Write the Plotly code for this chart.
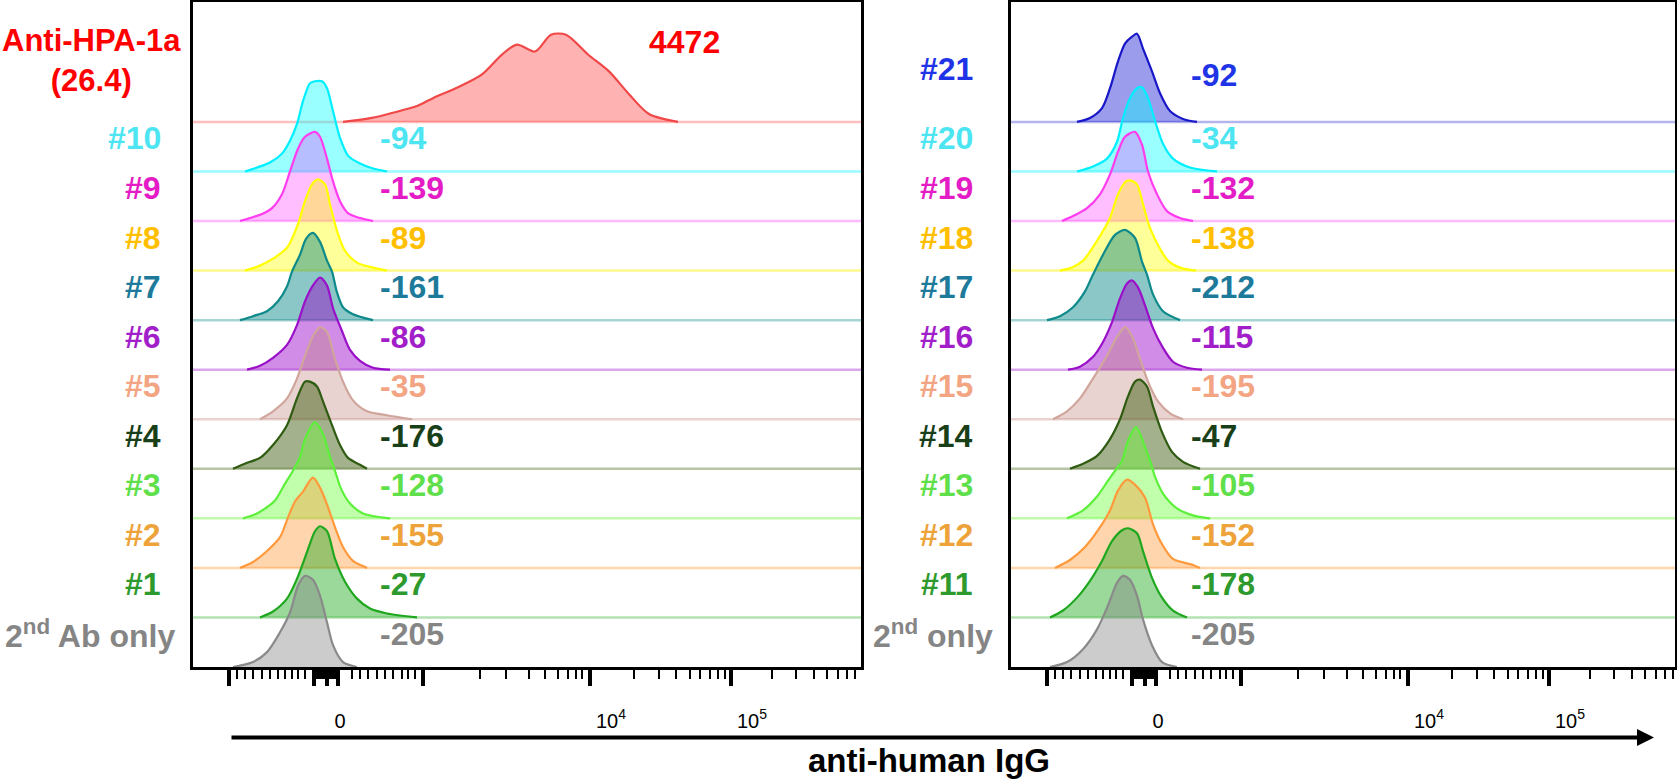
import plotly.graph_objects as go

W, H = 1677, 779

# ---------------- data (x in display channels of the biexponential axis, h = histogram height, % of mode scale) -------------
# left panel (top -> bottom)
hpa1a_x = [150, 179, 199, 224, 240, 265, 289, 309, 324, 342, 358, 373, 395, 416, 436, 456, 485]
hpa1a_h = [0, 4, 9, 16, 24, 35, 48, 68, 78, 71, 88, 88, 68, 51, 28, 8, 0]
s10_x = [52, 64, 77, 89, 97, 104, 110, 117, 122, 129, 134, 140, 147, 155, 167, 180, 194]
s10_h = [0, 4, 9, 18, 31, 48, 71, 89, 91, 91, 84, 61, 34, 16, 8, 3, 0]
s9_x = [47, 57, 69, 79, 89, 97, 105, 112, 122, 127, 134, 140, 147, 155, 167, 180]
s9_h = [0, 3, 7, 13, 27, 50, 73, 85, 90, 85, 63, 40, 20, 8, 3, 0]
s8_x = [52, 67, 80, 94, 105, 112, 119, 125, 132, 137, 144, 152, 164, 180, 194]
s8_h = [0, 5, 12, 23, 47, 70, 87, 92, 87, 67, 40, 20, 8, 3, 0]
s7_x = [47, 60, 74, 85, 94, 99, 107, 113, 120, 127, 134, 139, 144, 150, 160, 180]
s7_h = [0, 4, 9, 19, 34, 49, 66, 82, 88, 79, 60, 49, 28, 13, 6, 0]
s6_x = [54, 67, 80, 94, 104, 112, 120, 127, 134, 140, 149, 157, 167, 180, 197]
s6_h = [0, 4, 12, 25, 45, 69, 85, 93, 85, 62, 39, 20, 9, 2, 0]
s5_x = [67, 80, 94, 104, 112, 120, 127, 134, 142, 150, 160, 174, 194, 219]
s5_h = [0, 8, 21, 41, 64, 84, 93, 88, 61, 38, 19, 8, 4, 0]
s4_x = [40, 54, 67, 80, 94, 104, 112, 117, 124, 130, 139, 147, 155, 167, 174]
s4_h = [0, 6, 11, 24, 44, 71, 88, 88, 83, 68, 44, 24, 11, 4, 0]
s3_x = [50, 64, 75, 82, 92, 100, 107, 112, 122, 130, 137, 142, 148, 157, 170, 197]
s3_h = [0, 5, 12, 18, 35, 48, 62, 80, 97, 85, 62, 48, 30, 15, 5, 0]
s2_x = [47, 60, 74, 87, 95, 102, 110, 120, 127, 134, 142, 150, 160, 174]
s2_h = [0, 6, 17, 31, 51, 67, 77, 91, 81, 64, 41, 21, 7, 0]
s1_x = [67, 80, 94, 104, 114, 122, 127, 134, 142, 152, 164, 177, 194, 224]
s1_h = [0, 6, 19, 39, 66, 87, 92, 87, 59, 36, 19, 9, 4, 0]
ctrlL_x = [40, 60, 74, 87, 97, 105, 112, 120, 127, 134, 140, 150, 164]
ctrlL_h = [0, 5, 15, 35, 55, 82, 92, 88, 72, 45, 22, 5, 0]

# right panel (top -> bottom)
s21_x = [66, 79, 91, 99, 107, 114, 121, 126, 132, 141, 149, 159, 172, 186]
s21_h = [0, 4, 14, 34, 61, 79, 86, 89, 74, 51, 29, 11, 3, 0]
s20_x = [66, 82, 96, 106, 112, 119, 126, 131, 137, 144, 152, 162, 179, 206]
s20_h = [0, 5, 13, 30, 54, 74, 84, 85, 74, 51, 28, 13, 4, 0]
s19_x = [51, 62, 76, 89, 99, 107, 114, 124, 131, 137, 146, 156, 169, 182]
s19_h = [0, 5, 13, 27, 47, 70, 85, 90, 77, 50, 27, 10, 3, 0]
s18_x = [49, 61, 72, 86, 99, 107, 115, 119, 126, 132, 139, 149, 157, 169, 185]
s18_h = [0, 3, 10, 30, 53, 77, 90, 91, 87, 67, 43, 22, 10, 3, 0]
s17_x = [36, 49, 62, 74, 82, 92, 104, 114, 124, 131, 136, 142, 152, 169]
s17_h = [0, 4, 13, 29, 46, 66, 86, 91, 83, 59, 46, 26, 9, 0]
s16_x = [57, 69, 82, 92, 101, 109, 116, 121, 127, 134, 142, 152, 162, 176, 191]
s16_h = [0, 3, 13, 28, 48, 72, 87, 90, 83, 65, 42, 22, 8, 2, 0]
s15_x = [42, 56, 69, 82, 96, 106, 114, 121, 129, 137, 147, 159, 172]
s15_h = [0, 8, 21, 41, 64, 83, 93, 84, 61, 38, 18, 6, 0]
s14_x = [59, 72, 86, 99, 109, 117, 124, 129, 136, 142, 151, 161, 172, 189]
s14_h = [0, 5, 13, 30, 50, 73, 88, 90, 83, 63, 37, 17, 7, 0]
s13_x = [56, 72, 86, 97, 104, 111, 117, 125, 134, 141, 144, 152, 166, 182, 199]
s13_h = [0, 8, 22, 38, 48, 58, 78, 92, 72, 52, 42, 25, 10, 3, 0]
s12_x = [44, 59, 74, 87, 99, 107, 116, 124, 134, 142, 151, 162, 182, 189]
s12_h = [0, 8, 21, 38, 58, 78, 89, 84, 71, 44, 24, 9, 3, 0]
s11_x = [39, 52, 66, 79, 91, 101, 111, 117, 126, 132, 141, 151, 162, 176]
s11_h = [0, 7, 20, 37, 57, 77, 88, 90, 85, 67, 40, 20, 7, 0]
ctrlR_x = [39, 56, 72, 86, 97, 106, 112, 119, 126, 132, 141, 151, 166]
ctrlR_h = [0, 5, 18, 38, 62, 85, 92, 88, 72, 48, 22, 5, 0]

left_names = ["Anti-HPA-1a<br>(26.4)", "#10", "#9", "#8", "#7", "#6", "#5", "#4", "#3", "#2", "#1", "2<sup>nd</sup> Ab only"]
left_values = ["4472", "-94", "-139", "-89", "-161", "-86", "-35", "-176", "-128", "-155", "-27", "-205"]
right_names = ["#21", "#20", "#19", "#18", "#17", "#16", "#15", "#14", "#13", "#12", "#11", "2<sup>nd</sup> only"]
right_values = ["-92", "-34", "-132", "-138", "-212", "-115", "-195", "-47", "-105", "-152", "-178", "-205"]

left_curves = [(hpa1a_x, hpa1a_h), (s10_x, s10_h), (s9_x, s9_h), (s8_x, s8_h), (s7_x, s7_h), (s6_x, s6_h),
               (s5_x, s5_h), (s4_x, s4_h), (s3_x, s3_h), (s2_x, s2_h), (s1_x, s1_h), (ctrlL_x, ctrlL_h)]
right_curves = [(s21_x, s21_h), (s20_x, s20_h), (s19_x, s19_h), (s18_x, s18_h), (s17_x, s17_h), (s16_x, s16_h),
                (s15_x, s15_h), (s14_x, s14_h), (s13_x, s13_h), (s12_x, s12_h), (s11_x, s11_h), (ctrlR_x, ctrlR_h)]

# axis ticks (display channels)
major_ticks = [36, 121, 133.5, 145, 230, 397, 538]
minor_ticks = [44, 52, 60, 69, 77, 85, 92, 99, 105, 112,
               121, 123, 125, 127, 129, 131, 133, 135, 137, 139, 141, 143, 145,
               159, 167, 175, 184, 192, 200, 209, 215, 222,
               287, 313, 336, 352, 365, 375, 383, 389,
               441, 466, 483, 497, 507, 517, 525, 532,
               579, 603, 621, 634, 645, 654, 662]
label_pos = [147, 418, 559]
label_text = ["0", "10<sup>4</sup>", "10<sup>5</sup>"]

# ---------------- styles ----------------
TEXT_C = ["#4de5f2", "#e41cc6", "#ffbf00", "#1d7a9a", "#a11ec9", "#f3a482", "#183f18",
          "#5fe04b", "#eda33a", "#2e9a2e", "#858585"]
LINE_C = ["#00efff", "#ff3cf0", "#ffff00", "#0e8a8a", "#9a10c8", "#d0a59c", "#2f5c12",
          "#5cf03a", "#ff9a3c", "#1fa81f", "#8a8a8a"]
FILL_C = ["rgba(0,255,255,0.40)", "rgba(255,40,255,0.30)", "rgba(255,255,0,0.40)",
          "rgba(0,130,130,0.45)", "rgba(150,0,200,0.45)", "rgba(190,130,120,0.35)",
          "rgba(50,85,0,0.45)", "rgba(102,255,51,0.40)", "rgba(255,150,50,0.40)",
          "rgba(34,170,34,0.45)", "rgba(128,128,128,0.40)"]
BASE_C = ["rgba(0,240,255,0.40)", "rgba(255,60,255,0.35)", "rgba(255,240,0,0.45)",
          "rgba(0,130,130,0.35)", "rgba(150,0,200,0.35)", "rgba(190,130,120,0.35)",
          "rgba(50,85,0,0.35)", "rgba(102,240,51,0.40)", "rgba(255,150,50,0.40)",
          "rgba(34,170,34,0.35)", "rgba(128,128,128,0.4)"]
TOP_L = dict(text="#ff0000", line="#f04848", fill="rgba(255,0,0,0.30)", base="rgba(255,0,0,0.25)")
TOP_R = dict(text="#1e34e6", line="#1818c8", fill="rgba(20,20,210,0.42)", base="rgba(40,40,200,0.35)")

FONT = "Liberation Sans, Arial, sans-serif"
LSIZE = 32
STEP = 50.0           # vertical offset between stacked histograms (y units)
Y_TOP = 671.0         # y range top

LEFT = dict(x0=193, x1=861, xa="x", ya="y", xmax=668)
RIGHT = dict(x0=1011, x1=1675, xa="x2", ya="y2", xmax=664)
Y_DOM = [1 - 667 / H, 1 - 2 / H]

fig = go.Figure()
annotations = []


def add_panel(panel, curves, names, values, top, name_right_px, ctrl_right_px, is_left):
    n = len(curves)
    for i, (xs, hs) in enumerate(curves):
        k = n - 1 - i
        base = k * STEP
        if i == 0:
            tc, lc, fc, bc = top["text"], top["line"], top["fill"], top["base"]
        else:
            tc, lc, fc, bc = TEXT_C[i - 1], LINE_C[i - 1], FILL_C[i - 1], BASE_C[i - 1]
        if k > 0:
            fig.add_trace(go.Scatter(x=[0, panel["xmax"]], y=[base, base], mode="lines",
                                     line=dict(color=bc, width=2.5), xaxis=panel["xa"], yaxis=panel["ya"],
                                     hoverinfo="skip", showlegend=False))
        fig.add_trace(go.Scatter(x=xs, y=[base + h for h in hs], mode="lines", fill="toself",
                                 fillcolor=fc, line=dict(color=lc, width=2.2, shape="spline", smoothing=0.8),
                                 xaxis=panel["xa"], yaxis=panel["ya"], hoverinfo="skip", showlegend=False))
        # labels
        if i == 0 and is_left:
            annotations.append(dict(text="<b>%s</b>" % names[i], xref="paper", yref=panel["ya"],
                                    x=91 / W, y=base + 61.5, xanchor="center", yanchor="middle",
                                    showarrow=False, font=dict(family=FONT, size=31, color=tc)))
            annotations.append(dict(text="<b>%s</b>" % values[i], xref=panel["xa"], yref=panel["ya"],
                                    x=454, y=base + 81, xanchor="left", yanchor="middle",
                                    showarrow=False, font=dict(family=FONT, size=LSIZE, color=tc)))
            continue
        if i == 0:
            ny, vy = base + 53, base + 47
        else:
            ny = vy = base + 33.3
        rx = ctrl_right_px if i == n - 1 else name_right_px
        annotations.append(dict(text="<b>%s</b>" % names[i], xref="paper", yref=panel["ya"],
                                x=rx / W, y=ny, xanchor="right", yanchor="middle",
                                showarrow=False, font=dict(family=FONT, size=LSIZE, color=tc)))
        annotations.append(dict(text="<b>%s</b>" % values[i], xref=panel["xa"], yref=panel["ya"],
                                x=185 if is_left else 178, y=vy, xanchor="left", yanchor="middle",
                                showarrow=False, font=dict(family=FONT, size=LSIZE, color=tc)))


add_panel(LEFT, left_curves, left_names, left_values, TOP_L, 163, 177, True)
add_panel(RIGHT, right_curves, right_names, right_values, TOP_R, 975, 995, False)

# dummy traces for the overlay (major tick) axes
fig.add_trace(go.Scatter(x=[None], y=[None], xaxis="x3", yaxis="y", showlegend=False, hoverinfo="skip"))
fig.add_trace(go.Scatter(x=[None], y=[None], xaxis="x4", yaxis="y2", showlegend=False, hoverinfo="skip"))


def xaxis_main(panel, anchor):
    return dict(domain=[panel["x0"] / W, panel["x1"] / W], range=[0, panel["xmax"]], anchor=anchor,
                showgrid=False, zeroline=False, showline=True, linecolor="black", linewidth=2.5, mirror=True,
                tickmode="array", tickvals=label_pos, ticktext=label_text, ticks="", ticklabelstandoff=34,
                tickfont=dict(family=FONT, size=20, color="black"),
                minor=dict(tickmode="array", tickvals=minor_ticks, ticks="outside", ticklen=9, tickwidth=2,
                           tickcolor="black", showgrid=False))


def xaxis_major(panel, over, anchor):
    return dict(overlaying=over, anchor=anchor, range=[0, panel["xmax"]], showgrid=False, zeroline=False,
                showline=False, tickmode="array", tickvals=major_ticks, ticks="outside", ticklen=18,
                tickwidth=4, tickcolor="black", showticklabels=False, side="bottom")


def yaxis(anchor):
    return dict(domain=Y_DOM, range=[0, Y_TOP], anchor=anchor, showgrid=False, zeroline=False,
                showticklabels=False, ticks="", showline=True, linecolor="black", linewidth=2.5, mirror=True)


# axis arrow and title
annotations.append(dict(text="", xref="paper", yref="paper", x=1654 / W, y=1 - 737.5 / H,
                        ax=-(1654 - 230), ay=0, axref="pixel", ayref="pixel", showarrow=True,
                        arrowhead=2, arrowsize=0.85, arrowwidth=4, arrowcolor="black"))
annotations.append(dict(text="<b>anti-human IgG</b>", xref="paper", yref="paper", x=929 / W, y=1 - 760 / H,
                        xanchor="center", yanchor="middle", showarrow=False,
                        font=dict(family=FONT, size=33, color="black")))

fig.update_layout(
    width=W, height=H, margin=dict(l=0, r=0, t=0, b=0),
    paper_bgcolor="white", plot_bgcolor="white", showlegend=False,
    xaxis=xaxis_main(LEFT, "y"), yaxis=yaxis("x"),
    xaxis2=xaxis_main(RIGHT, "y2"), yaxis2=yaxis("x2"),
    xaxis3=xaxis_major(LEFT, "x", "y"), xaxis4=xaxis_major(RIGHT, "x2", "y2"),
    annotations=annotations,
)

fig.write_html("out.html", config={"displayModeBar": False},
               post_script="document.body.style.margin='0';document.body.style.overflow='hidden';")
